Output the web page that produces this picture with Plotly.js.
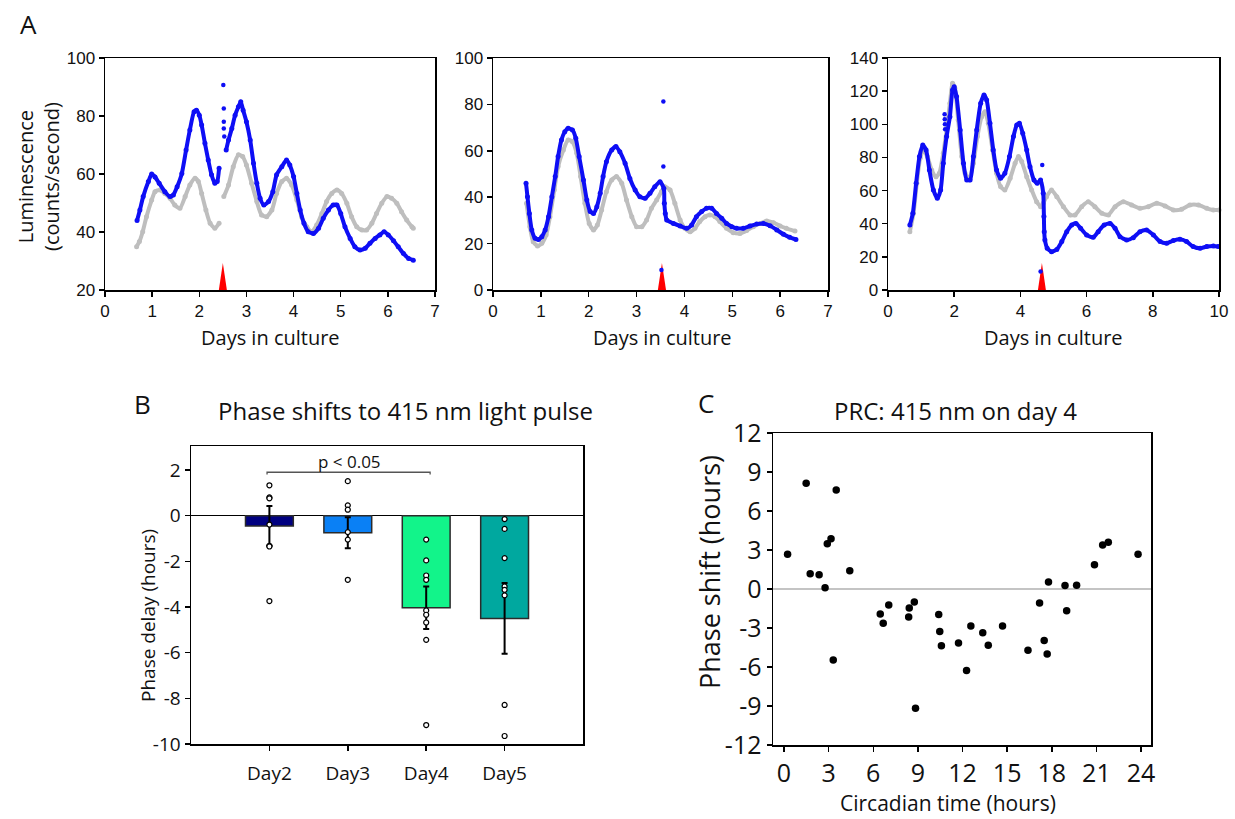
<!DOCTYPE html>
<html><head><meta charset="utf-8">
<script src="https://cdn.plot.ly/plotly-3.0.1.min.js"></script>
<style>html,body{margin:0;padding:0;background:#fff}#chart{width:1235px;height:819px}</style>
</head><body><div id="chart"></div>
<script>
// ---------- Panel A1 ----------
const a1GrayX = [0.67,0.73,0.80,0.88,0.99,1.06,1.17,1.27,1.38,1.48,1.59,1.70,1.80,1.91,1.98,2.05,2.14,2.23,2.33,2.42,2.47,2.52,2.62,2.72,2.83,2.92,3.00,3.11,3.22,3.32,3.43,3.54,3.64,3.75,3.85,3.96,4.07,4.17,4.28,4.38,4.49,4.60,4.70,4.81,4.92,5.02,5.13,5.23,5.34,5.45,5.55,5.66,5.76,5.87,5.98,6.08,6.19,6.29,6.40,6.51,6.54];
const a1GrayY = [34.9,36.7,40.1,45.3,51,53.9,54.5,53.3,51.6,49.3,48.2,52.2,56.2,58.5,57.4,53.3,47.6,43,41.3,43,null,52.2,56.2,62.5,66.6,66,63.1,56.8,50.5,45.9,45.3,47.6,53.3,57.4,58.5,56.2,51,45.3,41.8,40.1,42.4,46.4,50.5,53.3,54.5,53.3,49.9,45.3,41.8,40.7,40.7,43,46.4,49.9,52.2,51.6,49.9,47,44.1,41.8,41.3];
const a1BlueX = [0.68,0.74,0.81,0.92,0.99,1.06,1.15,1.27,1.38,1.45,1.53,1.63,1.72,1.80,1.89,1.94,2.00,2.05,2.12,2.19,2.26,2.33,2.38,2.42,2.47,2.57,2.62,2.69,2.76,2.83,2.88,2.93,3.00,3.08,3.15,3.22,3.29,3.37,3.47,3.56,3.64,3.75,3.85,3.92,4.00,4.07,4.14,4.22,4.31,4.42,4.53,4.63,4.74,4.84,4.92,5.00,5.09,5.20,5.30,5.41,5.52,5.62,5.73,5.83,5.92,6.01,6.12,6.22,6.33,6.44,6.54];
const a1BlueY = [44,47.6,52.2,57.4,60,59,56.8,53.9,52.2,52.8,55.6,60.2,68.3,75.2,81.5,82,80.3,76.9,70.6,64.8,59.7,56.8,57.4,62,null,68.3,71.7,75.7,80.3,83.2,84.9,82,78,71.7,63.7,56.8,51.6,49.3,50.5,53.9,59.7,62.5,64.8,63.1,59.1,53.3,47.6,43,40.1,39.5,41.3,44.7,47.6,49.3,49.3,46.4,41.8,37.8,34.9,33.8,34.4,36.1,37.8,39,40.1,39,37,34.9,32.6,30.9,30.3];
const a1OutX = [2.51,2.52,2.52,2.52,2.53];
const a1OutY = [90.7,82.6,78,75.7,72.9];

// ---------- Panel A2 ----------
const a2GrayX = [0.70,0.77,0.84,0.93,1.02,1.11,1.19,1.28,1.36,1.47,1.57,1.66,1.75,1.83,1.92,2.01,2.10,2.18,2.27,2.37,2.48,2.58,2.69,2.79,2.90,3.00,3.11,3.21,3.31,3.42,3.52,3.59,3.70,3.80,3.91,4.01,4.12,4.22,4.32,4.43,4.53,4.64,4.74,4.88,5.02,5.16,5.30,5.44,5.58,5.72,5.86,6.00,6.13,6.31];
const a2GrayY = [37.4,27.3,20.8,19,20.1,23.7,31.6,43.1,53.2,60.3,64.7,63.9,58.9,48.9,37.4,28.7,25.9,28,34.5,42.4,47.4,48.9,46,38.8,31.6,27.3,27.3,30.2,35.2,38.8,42.4,44.5,43.1,37.4,30.2,26.6,25.1,26.6,29.5,31.6,32.3,31.6,29.5,26.6,24.7,24.4,25.6,27.3,28.7,29.7,29,27.6,26.6,25.4];
const a2BlueX = [0.69,0.72,0.76,0.81,0.88,0.95,1.02,1.09,1.16,1.23,1.30,1.36,1.43,1.50,1.57,1.66,1.73,1.80,1.89,1.96,2.03,2.10,2.17,2.24,2.30,2.37,2.48,2.57,2.65,2.76,2.86,2.97,3.07,3.18,3.28,3.38,3.49,3.57,3.58,3.60,3.63,3.77,3.91,4.05,4.15,4.25,4.36,4.46,4.57,4.67,4.78,4.88,4.99,5.09,5.23,5.37,5.51,5.65,5.79,5.93,6.07,6.20,6.33];
const a2BlueY = [46,40.2,33,25.9,22.3,21.8,23,25.9,31.6,40.2,48.9,57.5,64.7,68.2,69.7,69,65.4,57.5,47.4,38.8,33.8,33,35.9,41.7,48.9,55.3,60.3,61.8,59.6,54.6,48.1,43.1,40.2,39.5,41.7,44.5,46.7,43.8,37.4,33,30.2,28.7,27.6,26.6,28,31.6,33.8,35.2,35.2,33,30.9,28.7,27.3,26.6,26.6,27.6,28.4,28.7,27.7,25.9,24,22.7,21.8];
const a2OutX = [3.56,3.56,3.52];
const a2OutY = [81.2,53.2,8.6];

// ---------- Panel A3 ----------
const a3GrayX = [0.66,0.77,0.87,0.97,1.07,1.19,1.32,1.45,1.55,1.67,1.77,1.87,1.95,2.02,2.12,2.23,2.33,2.46,2.58,2.70,2.83,2.93,3.03,3.16,3.28,3.40,3.53,3.69,3.84,3.94,4.04,4.19,4.34,4.49,4.61,4.65,4.69,4.79,4.94,5.10,5.30,5.50,5.65,5.85,6.05,6.25,6.46,6.66,6.86,7.11,7.36,7.61,7.86,8.12,8.37,8.62,8.87,9.12,9.38,9.63,9.83,10.0];
const a3GrayY = [35.2,46.3,64.4,79.5,84.5,80.5,72.4,68.4,70.4,82.5,96.6,112.7,124.7,121.7,102.6,80.5,70.4,67.4,76.5,92.6,104.6,107.6,100.6,84.5,70.4,62.4,60.4,67.4,76.5,80.5,77.5,68.4,60.4,53.3,50.3,null,52.3,56.3,60.4,56.3,50.3,45.3,45.3,50.3,53.3,50.3,46.3,45.3,50.3,53.3,51.3,49.3,50.3,52.3,50.7,48.3,48.7,51.3,51.3,49.3,48.3,48.3];
const a3BlueX = [0.66,0.75,0.85,0.95,1.05,1.15,1.25,1.37,1.49,1.59,1.67,1.77,1.87,1.95,2.00,2.07,2.18,2.28,2.38,2.48,2.58,2.68,2.80,2.90,2.98,3.08,3.18,3.28,3.40,3.53,3.67,3.79,3.89,3.97,4.07,4.19,4.29,4.41,4.51,4.61,4.69,4.71,4.72,4.74,4.81,4.94,5.10,5.25,5.40,5.55,5.68,5.82,6.00,6.20,6.35,6.53,6.71,6.86,7.01,7.21,7.41,7.61,7.81,8.02,8.22,8.42,8.62,8.82,9.02,9.22,9.43,9.63,9.83,9.98];
const a3BlueY = [39.2,46.3,64.4,80.5,87.5,84.5,72.4,60.4,55.3,60.4,76.5,92.6,104.6,120.7,122.7,116.7,96.6,76.5,66.4,66.4,80.5,96.6,112.7,117.7,114.7,100.6,84.5,72.4,67.4,70.4,80.5,92.6,99.6,100.6,94.6,84.5,74.4,66.4,64.4,66.4,58.4,44.3,35.2,30.2,25.2,23.1,24.5,29.2,35.2,39.2,40.2,37.2,33.2,31.8,35.2,39.2,40.2,37.2,32.2,30.2,31.6,35.2,36.2,33.2,29.2,28.2,29.8,30.6,29.2,26.2,25.2,26.2,26.6,26.2];
const a3OutX = [1.71,1.715,1.72,1.725,4.66,4.61];
const a3OutY = [106,103,100,97,75.5,11.1];

// light pulses (red triangles)
const pulseDay = [2.5, 3.53, 4.65];
const pulseTop = [29.3, 11.6, 16.3];
const pulseBase = [20, 0, 0];
const pulseHalfWidth = [0.085, 0.085, 0.12];

// ---------- Panel B ----------
const dayLabels = ['Day2','Day3','Day4','Day5'];
const meanDelay = [-0.45, -0.75, -4.03, -4.5];
const semDelay = [0.87, 0.68, 0.93, 1.55];
const barColors = ['#000080','#0a80f5','#12f48a','#00a89f'];
const day2Pts = [1.33,0.80,0.76,-0.39,-1.32,-1.35,-3.74];
const day3Pts = [1.51,0.45,0.26,-0.72,-1.05,-2.81];
const day4Pts = [-1.05,-1.96,-2.62,-2.81,-4.15,-4.34,-4.68,-5.44,-9.17];
const day5Pts = [-0.15,-0.58,-1.86,-3.1,-3.25,-3.49,-8.29,-9.65];
const bracketX = [-0.03, 2.05];
const bracketY = 1.9;
const bTickVals = [2,0,-2,-4,-6,-8,-10];
const bTickText = ['2','0','-2','-4','-6','-8','-10'];

// ---------- Panel C ----------
const ctHours = [0.24,1.49,1.76,2.36,2.76,2.91,3.16,3.51,3.31,4.42,6.47,6.67,7.04,8.38,8.42,8.76,8.84,10.4,10.47,10.58,11.73,12.27,12.56,13.36,13.73,14.69,16.4,17.18,17.49,17.69,17.78,18.89,19.0,19.67,20.87,21.42,21.8,23.8];
const phaseShift = [2.67,8.13,1.18,1.10,0.10,3.49,3.87,7.62,-5.46,1.41,-1.92,-2.64,-1.23,-2.15,-1.46,-1.0,-9.18,-1.97,-3.26,-4.36,-4.15,-6.26,-2.85,-3.36,-4.33,-2.85,-4.72,-1.08,-3.97,-5.0,0.54,0.26,-1.67,0.28,1.87,3.38,3.59,2.67];
const cXTicks = [0,3,6,9,12,15,18,21,24];
const cYTicks = [12,9,6,3,0,-3,-6,-9,-12];
const cYText = ['12','9','6','3','0','-3','-6','-9','-12'];

// ---------- build ----------
const W = 1235, H = 819;
const dx = (a,b) => [a/W, b/W];
const dy = (t,b) => [1-b/H, 1-t/H];
const px = x => x/W, py = y => 1-y/H;

const BLUE = 'rgb(14,14,245)', GRAY = 'rgb(190,190,190)';
const traces = [];
function trace(x, y, color, xa, ya) {
  traces.push({x, y, xaxis: xa, yaxis: ya, type: 'scatter', mode: 'lines+markers',
    line: {color, width: 4, shape: 'spline', smoothing: 0.6}, marker: {color, size: 5},
    connectgaps: false, hoverinfo: 'skip', cliponaxis: false});
}
function dots(x, y, color, xa, ya) {
  traces.push({x, y, xaxis: xa, yaxis: ya, type: 'scatter', mode: 'markers',
    marker: {color, size: 4.5}, hoverinfo: 'skip', cliponaxis: false});
}
function pulse(i, xa, ya) {
  const d = pulseDay[i], w = pulseHalfWidth[i], b = pulseBase[i], t = pulseTop[i];
  traces.push({x: [d-w, d, d+w, d-w], y: [b, t, b, b], xaxis: xa, yaxis: ya, type: 'scatter',
    mode: 'lines', fill: 'toself', fillcolor: '#ff0000', line: {width: 0, color: '#ff0000'},
    hoverinfo: 'skip', cliponaxis: false});
}
trace(a1GrayX, a1GrayY, GRAY, 'x', 'y');
trace(a1BlueX, a1BlueY, BLUE, 'x', 'y');
pulse(0, 'x', 'y');
dots(a1OutX, a1OutY, BLUE, 'x', 'y');

trace(a2GrayX, a2GrayY, GRAY, 'x2', 'y2');
trace(a2BlueX, a2BlueY, BLUE, 'x2', 'y2');
pulse(1, 'x2', 'y2');
dots(a2OutX, a2OutY, BLUE, 'x2', 'y2');

trace(a3GrayX, a3GrayY, GRAY, 'x3', 'y3');
trace(a3BlueX, a3BlueY, BLUE, 'x3', 'y3');
pulse(2, 'x3', 'y3');
dots(a3OutX, a3OutY, BLUE, 'x3', 'y3');

// B
const barIdx = dayLabels.map((_, i) => i);
traces.push({type: 'bar', x: barIdx, y: meanDelay, xaxis: 'x4', yaxis: 'y4', width: 0.61,
  marker: {color: barColors, line: {color: '#2b2b2b', width: 1.5}},
  error_y: {type: 'data', array: semDelay, visible: true, color: '#000', thickness: 2, width: 3},
  hoverinfo: 'skip'});
[day2Pts, day3Pts, day4Pts, day5Pts].forEach((pts, i) => {
  traces.push({type: 'scatter', mode: 'markers', x: pts.map(() => i), y: pts, xaxis: 'x4', yaxis: 'y4',
    marker: {color: '#fff', size: 5, line: {color: '#000', width: 1.2}}, hoverinfo: 'skip'});
});
traces.push({type: 'scatter', mode: 'lines', xaxis: 'x4', yaxis: 'y4',
  x: [bracketX[0], bracketX[0], bracketX[1], bracketX[1]],
  y: [bracketY - 0.1, bracketY, bracketY, bracketY - 0.1],
  line: {color: '#555', width: 1.3}, hoverinfo: 'skip'});

// C
traces.push({type: 'scatter', mode: 'markers', x: ctHours, y: phaseShift, xaxis: 'x5', yaxis: 'y5',
  marker: {color: '#000', size: 7.5}, hoverinfo: 'skip'});

const axBase = {showline: true, linecolor: '#000', linewidth: 1.5, mirror: true, ticks: 'outside',
  ticklen: 5, tickwidth: 1.5, tickcolor: '#000', showgrid: false, zeroline: false, fixedrange: true};
const aFont = {family: 'Liberation Sans, Arial, sans-serif', size: 17, color: '#111'};
const sans = 'Open Sans, Noto Sans, sans-serif';

const layout = {
  width: W, height: H, margin: {l: 0, r: 0, t: 0, b: 0}, showlegend: false,
  paper_bgcolor: '#fff', plot_bgcolor: '#fff',
  xaxis:  Object.assign({}, axBase, {domain: dx(105,435), range: [0,7], dtick: 1, anchor: 'y', tickfont: aFont}),
  yaxis:  Object.assign({}, axBase, {domain: dy(58,290), range: [20,100], dtick: 20, anchor: 'x', tickfont: aFont}),
  xaxis2: Object.assign({}, axBase, {domain: dx(493,828), range: [0,7], dtick: 1, anchor: 'y2', tickfont: aFont}),
  yaxis2: Object.assign({}, axBase, {domain: dy(58,290), range: [0,100], dtick: 20, anchor: 'x2', tickfont: aFont}),
  xaxis3: Object.assign({}, axBase, {domain: dx(888,1219), range: [0,10], dtick: 2, anchor: 'y3', tickfont: aFont}),
  yaxis3: Object.assign({}, axBase, {domain: dy(58,290), range: [0,140], dtick: 20, anchor: 'x3', tickfont: aFont}),
  xaxis4: Object.assign({}, axBase, {domain: dx(191,583), range: [-1,4], tickvals: barIdx, ticktext: dayLabels,
    anchor: 'y4', tickfont: {family: sans, size: 19, color: '#111'}, ticklabelstandoff: 7}),
  yaxis4: Object.assign({}, axBase, {domain: dy(446,744), range: [-10,3.05], tickvals: bTickVals, ticktext: bTickText,
    anchor: 'x4', tickfont: {family: sans, size: 19, color: '#111'}, zeroline: true, zerolinecolor: '#000', zerolinewidth: 1.5}),
  xaxis5: Object.assign({}, axBase, {domain: dx(773,1151), range: [-0.74,24.67], tickvals: cXTicks,
    anchor: 'y5', tickfont: {family: sans, size: 25, color: '#111'}}),
  yaxis5: Object.assign({}, axBase, {domain: dy(433,745), range: [-12,12], tickvals: cYTicks, ticktext: cYText,
    anchor: 'x5', tickfont: {family: sans, size: 25, color: '#111'}, zeroline: true, zerolinecolor: '#c4c4c4', zerolinewidth: 2}),
  annotations: []
};
function ann(text, x, y, size, extra) {
  layout.annotations.push(Object.assign({text, x: px(x), y: py(y), xref: 'paper', yref: 'paper',
    showarrow: false, xanchor: 'center', yanchor: 'middle', font: {family: sans, size, color: '#111'}}, extra || {}));
}
ann('A', 28, 24, 26);
ann('Luminescence<br>(counts/second)', 38, 177, 20, {textangle: -90});
ann('Days in culture', 270, 337, 20);
ann('Days in culture', 662, 337, 20);
ann('Days in culture', 1053, 337, 20);
ann('B', 142, 404, 26);
ann('Phase shifts to 415 nm light pulse', 405, 410, 24);
ann('Phase delay (hours)', 148, 616, 19, {textangle: -90});
ann('p &lt; 0.05', 349, 461, 17);
ann('C', 706, 403, 26);
ann('PRC: 415 nm on day 4', 955, 410, 24);
ann('Phase shift (hours)', 709, 572, 27, {textangle: -90});
ann('Circadian time (hours)', 948, 803, 21);

Plotly.newPlot('chart', traces, layout, {staticPlot: true, displayModeBar: false});
</script>
</body></html>
